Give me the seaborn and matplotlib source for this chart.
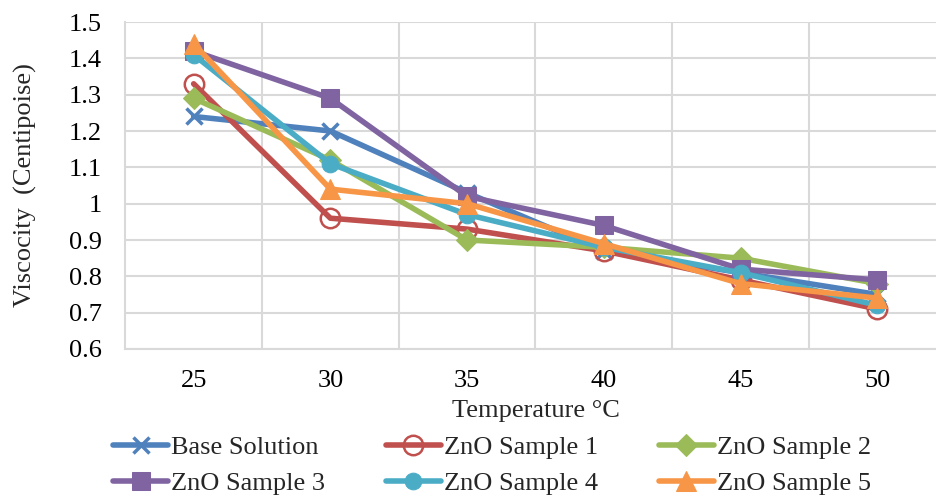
import matplotlib
matplotlib.use("Agg")
import matplotlib.pyplot as plt
import seaborn as sns
import pandas as pd
from matplotlib.ticker import FuncFormatter, MultipleLocator, FixedLocator

temperatures = [25, 30, 35, 40, 45, 50]
base_solution = [1.24, 1.20, 1.03, 0.87, 0.81, 0.75]
zno_sample_1 = [1.33, 0.96, 0.93, 0.87, 0.79, 0.71]
zno_sample_2 = [1.29, 1.12, 0.90, 0.88, 0.85, 0.78]
zno_sample_3 = [1.42, 1.29, 1.02, 0.94, 0.82, 0.79]
zno_sample_4 = [1.41, 1.11, 0.97, 0.88, 0.81, 0.72]
zno_sample_5 = [1.44, 1.04, 1.00, 0.89, 0.78, 0.74]

series_names = ["Base Solution", "ZnO Sample 1", "ZnO Sample 2",
                "ZnO Sample 3", "ZnO Sample 4", "ZnO Sample 5"]
series_values = [base_solution, zno_sample_1, zno_sample_2,
                 zno_sample_3, zno_sample_4, zno_sample_5]

colors = ["#4F81BD", "#C0504D", "#9BBB59", "#8064A2", "#4BACC6", "#F79646"]
markers = ["x", "o", "D", "s", "o", "^"]
msizes = [12, 14, 11, 13, 12, 15]

sns.set_theme(style="white")
plt.rcParams["font.family"] = ["Liberation Serif", "DejaVu Serif"]

fig = plt.figure(figsize=(9.37, 4.97), dpi=100)
ax = fig.add_axes([0.1337, 0.2978, 0.8756, 0.6579])

for name, vals, c, m, ms in zip(series_names, series_values, colors, markers, msizes):
    df = pd.DataFrame({"Temperature": temperatures, "Viscosity": vals})
    kw = dict(marker=m, markersize=ms, color=c, linewidth=4, label=name)
    if name == "ZnO Sample 1":
        kw.update(markerfacecolor="none", markeredgecolor=c, markeredgewidth=1.8)
    elif m == "x":
        kw.update(markeredgewidth=2.5, markeredgecolor=c)
    else:
        kw.update(markeredgecolor=c, markerfacecolor=c)
    sns.lineplot(data=df, x="Temperature", y="Viscosity", ax=ax, **kw)

ax.set_xlim(22.5, 52.5)
ax.set_ylim(0.6, 1.5)
ax.xaxis.set_major_locator(FixedLocator(temperatures))
ax.xaxis.set_minor_locator(FixedLocator([27.5, 32.5, 37.5, 42.5, 47.5, 52.5]))
ax.yaxis.set_major_locator(MultipleLocator(0.1))
ax.yaxis.set_major_formatter(FuncFormatter(lambda v, p: ("%.1f" % v).rstrip("0").rstrip(".")))

grid_c = "#D9D9D9"
ax.grid(False)
ax.grid(True, which="major", axis="y", color=grid_c, linewidth=1.5)
ax.grid(True, which="minor", axis="x", color=grid_c, linewidth=1.5)
ax.set_axisbelow(True)
for s in ["top", "right"]:
    ax.spines[s].set_visible(False)
for s in ["left", "bottom"]:
    ax.spines[s].set_color(grid_c)
    ax.spines[s].set_linewidth(1.5)

ax.tick_params(axis="both", which="both", length=0, labelsize=19, colors="black")
ax.tick_params(axis="x", pad=15)
ax.tick_params(axis="y", pad=17)

ax.set_xlabel("Temperature °C", fontsize=19, labelpad=6)
ax.set_ylabel("Viscocity  (Centipoise)", fontsize=19, labelpad=23)

if ax.get_legend():
    ax.get_legend().remove()
handles, labels = ax.get_legend_handles_labels()
order = [0, 3, 1, 4, 2, 5]
fig.legend([handles[i] for i in order], [labels[i] for i in order],
           loc="center", bbox_to_anchor=(0.525, 0.063), ncol=3, frameon=False,
           fontsize=19, handlelength=2.1, handletextpad=0.1, columnspacing=2.3,
           labelspacing=0.48, borderpad=0)

fig.savefig("out.png", dpi=100)
